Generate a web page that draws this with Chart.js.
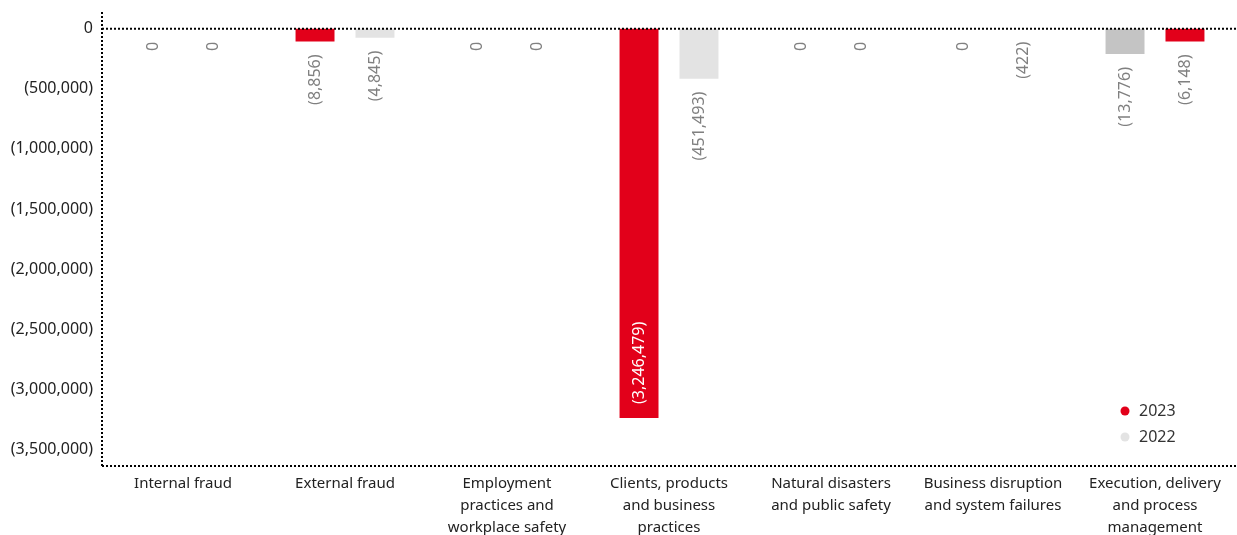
<!DOCTYPE html>
<html>
<head>
<meta charset="utf-8">
<script src="https://cdn.jsdelivr.net/npm/chart.js@4"></script>
<style>
  html, body { margin: 0; padding: 0; background: #fff; }
  #wrap { width: 1237px; height: 535px; position: relative; }
</style>
</head>
<body>
<div id="wrap"><canvas id="chart"></canvas></div>
<script>
// Operational losses by event type
const categories = [
  ['Internal fraud'],
  ['External fraud'],
  ['Employment', 'practices and', 'workplace safety'],
  ['Clients, products', 'and business', 'practices'],
  ['Natural disasters', 'and public safety'],
  ['Business disruption', 'and system failures'],
  ['Execution, delivery', 'and process', 'management']
];

// bar lengths as drawn in the picture
const values2023 = [0, -105000, 0, -3240000, 0, 0, -210000];
const values2022 = [0, -75000, 0, -415000, 0, 0, -105000];

// printed value labels
const labels2023 = ['0', '(8,856)', '0', '(3,246,479)', '0', '0', '(13,776)'];
const labels2022 = ['0', '(4,845)', '0', '(451,493)', '0', '(422)', '(6,148)'];

const yTicks = [0, -500000, -1000000, -1500000, -2000000, -2500000, -3000000, -3500000];

const RED = '#e2001a';
const LIGHT = '#e3e3e3';
const MID = '#c4c4c4';
const FONT = '"Noto Sans", "Open Sans", sans-serif';

// last group has the colours swapped in the original
const colors2023 = values2023.map((v, i) => (i === 6 ? MID : RED));
const colors2022 = values2022.map((v, i) => (i === 6 ? RED : LIGHT));

function fmt(v) {
  if (v === 0) return '0';
  const s = Math.abs(v).toLocaleString('en-US');
  return v < 0 ? `(${s})` : s;
}

const dottedLines = {
  id: 'dottedLines',
  afterDatasetsDraw(chart) {
    const { ctx, chartArea } = chart;
    const y0 = chart.scales.y.getPixelForValue(0);
    ctx.save();
    ctx.strokeStyle = '#000';
    ctx.lineWidth = 2;
    ctx.setLineDash([2, 2]);
    ctx.beginPath();
    ctx.moveTo(chartArea.left, chartArea.top);
    ctx.lineTo(chartArea.left, chartArea.bottom);
    ctx.moveTo(chartArea.left, chartArea.bottom);
    ctx.lineTo(chartArea.right, chartArea.bottom);
    ctx.moveTo(chartArea.left, y0);
    ctx.lineTo(chartArea.right, y0);
    ctx.stroke();
    ctx.restore();
  }
};

const valueLabels = {
  id: 'valueLabels',
  afterDatasetsDraw(chart) {
    const { ctx } = chart;
    const texts = [labels2023, labels2022];
    ctx.save();
    ctx.font = `16px ${FONT}`;
    ctx.textBaseline = 'middle';
    chart.data.datasets.forEach((ds, di) => {
      const meta = chart.getDatasetMeta(di);
      meta.data.forEach((bar, i) => {
        const len = Math.abs(bar.y - bar.base);
        ctx.save();
        ctx.translate(bar.x, bar.y);
        ctx.rotate(-Math.PI / 2);
        if (len > 200) {
          ctx.fillStyle = '#fff';
          ctx.textAlign = 'left';
          ctx.fillText(texts[di][i], 14, 0);
        } else {
          ctx.fillStyle = '#808080';
          ctx.textAlign = 'right';
          ctx.fillText(texts[di][i], -13, 0);
        }
        ctx.restore();
      });
    });
    ctx.restore();
  }
};

const cornerLegend = {
  id: 'cornerLegend',
  afterDraw(chart) {
    const { ctx, chartArea } = chart;
    const items = [['2023', RED], ['2022', LIGHT]];
    ctx.save();
    ctx.font = `16px ${FONT}`;
    ctx.textBaseline = 'middle';
    ctx.textAlign = 'left';
    items.forEach(([txt, col], i) => {
      const y = chartArea.bottom - 55 + i * 26;
      const x = chartArea.right - 111;
      ctx.fillStyle = col;
      ctx.beginPath();
      ctx.arc(x, y, 4.5, 0, Math.PI * 2);
      ctx.fill();
      ctx.fillStyle = '#333';
      ctx.fillText(txt, x + 14, y);
    });
    ctx.restore();
  }
};

new Chart(document.getElementById('chart'), {
  type: 'bar',
  data: {
    labels: categories,
    datasets: [
      {
        label: '2023',
        data: values2023,
        backgroundColor: colors2023,
        borderWidth: 0,
        categoryPercentage: 0.74,
        barPercentage: 0.65
      },
      {
        label: '2022',
        data: values2022,
        backgroundColor: colors2022,
        borderWidth: 0,
        categoryPercentage: 0.74,
        barPercentage: 0.65
      }
    ]
  },
  options: {
    responsive: true,
    maintainAspectRatio: false,
    animation: false,
    layout: {
      padding: { top: 12, right: 1, left: 0, bottom: 0 }
    },
    plugins: {
      legend: { display: false },
      tooltip: { enabled: false }
    },
    scales: {
      x: {
        grid: { display: false },
        border: { display: false },
        ticks: {
          color: '#222',
          font: { family: FONT, size: 15, lineHeight: 1.45 },
          padding: -1,
          maxRotation: 0,
          autoSkip: false
        },
        afterFit: (scale) => {
          scale.height = 69;
          scale.paddingLeft = 0;
          scale.paddingRight = 0;
        }
      },
      y: {
        min: -3640000,
        max: 140000,
        grid: { display: false, drawTicks: false },
        border: { display: false },
        afterBuildTicks: (scale) => {
          scale.ticks = yTicks.map(v => ({ value: v }));
        },
        ticks: {
          color: '#222',
          font: { family: FONT, size: 16 },
          padding: 9,
          callback: (value) => fmt(value)
        },
        afterFit: (scale) => {
          scale.width = 102;
          scale.paddingTop = 0;
          scale.paddingBottom = 0;
        }
      }
    }
  },
  plugins: [dottedLines, valueLabels, cornerLegend]
});
</script>
</body>
</html>
